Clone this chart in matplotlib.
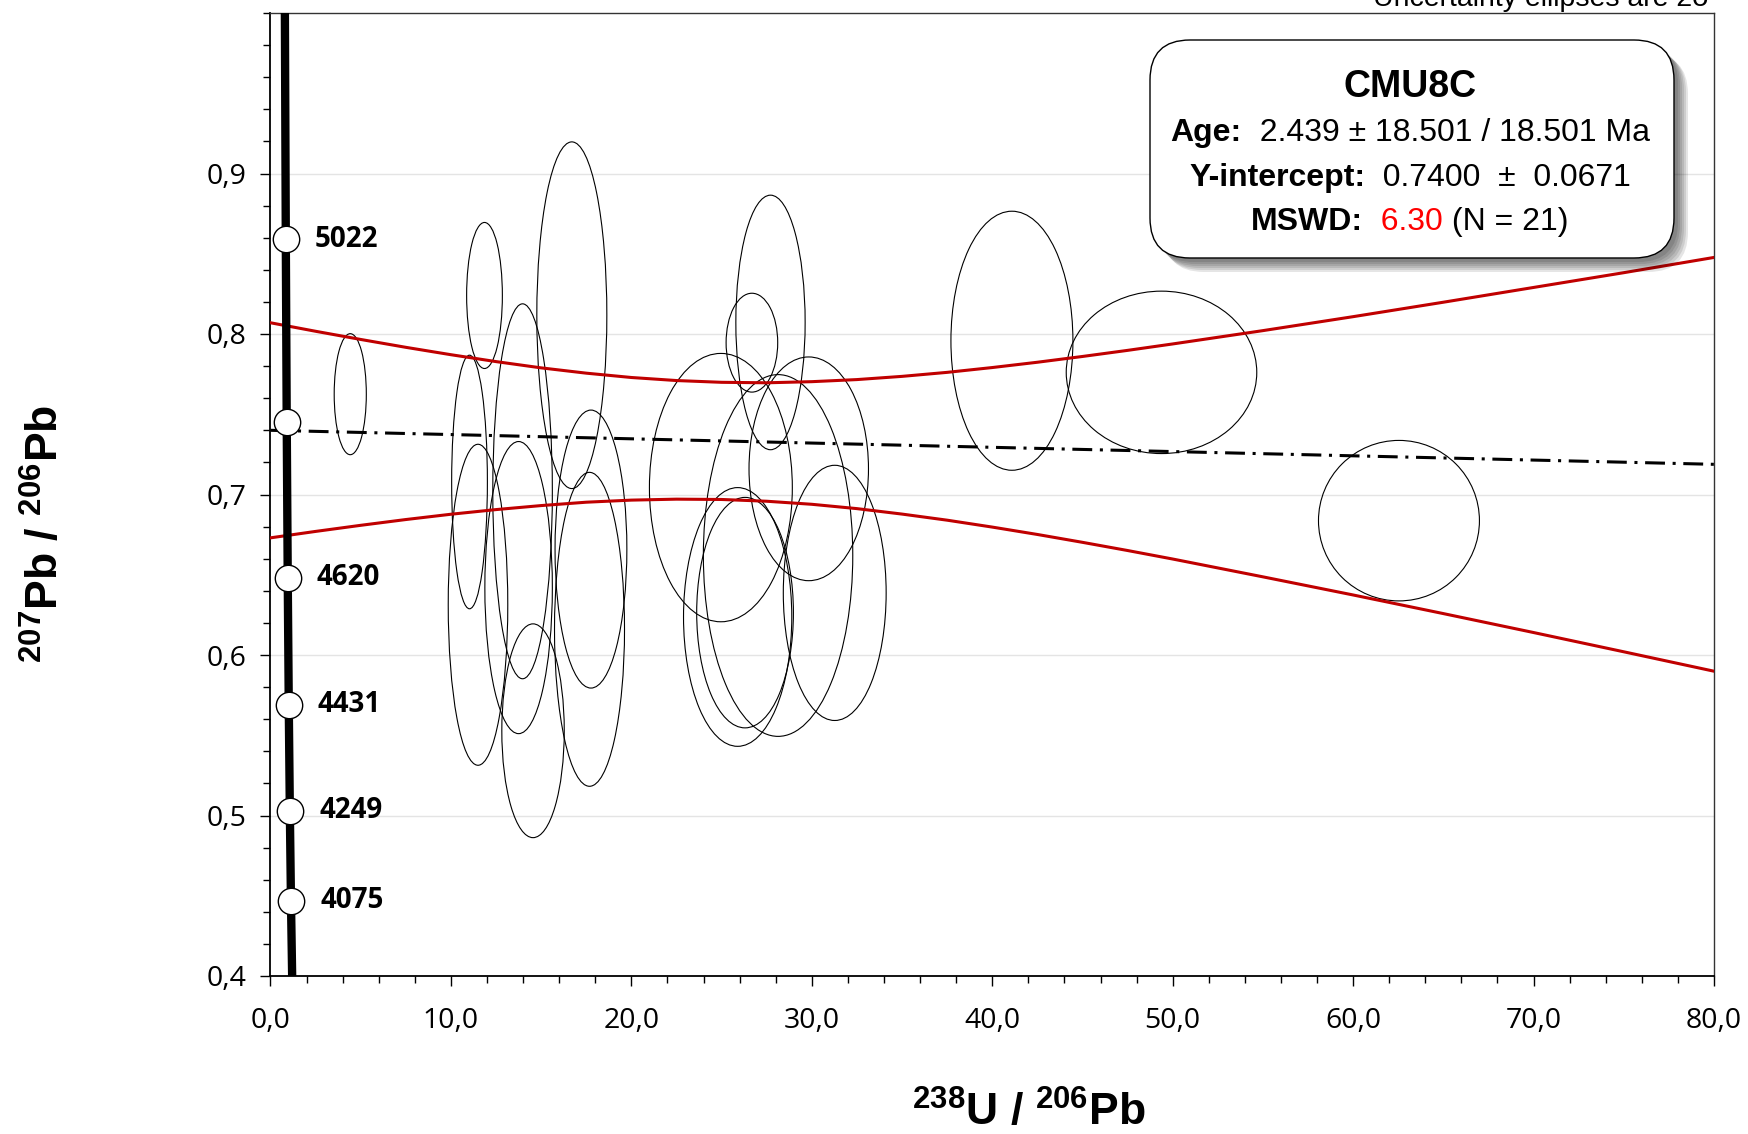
import matplotlib
matplotlib.use("Agg")
import matplotlib.pyplot as plt
from matplotlib.patches import Ellipse, FancyBboxPatch
from matplotlib.ticker import MultipleLocator, FixedLocator, FuncFormatter
from matplotlib.transforms import IdentityTransform

plt.rcParams['mathtext.fontset'] = 'custom'
plt.rcParams['mathtext.rm'] = 'Liberation Sans:bold'
plt.rcParams['mathtext.bf'] = 'Liberation Sans:bold'

# ---------------- data ----------------
# 2 sigma uncertainty ellipses: centre and half-axes
ell_x = [4.42, 11.86, 11.03, 11.50, 13.97, 13.75, 14.55, 16.70, 17.76, 17.68, 24.96,
         26.68, 27.71, 25.89, 26.30, 28.13, 29.83, 31.27, 41.09, 49.38, 62.54]
ell_y = [0.7625, 0.824, 0.7078, 0.6313, 0.702, 0.642, 0.5528, 0.8117, 0.666, 0.616, 0.7043,
         0.7946, 0.8072, 0.6237, 0.6264, 0.662, 0.716, 0.6387, 0.7958, 0.7761, 0.6837]
ell_dx = [0.89, 0.99, 0.99, 1.65, 1.65, 1.87, 1.73, 1.94, 1.99, 1.94, 3.96,
          1.43, 1.92, 3.00, 2.68, 4.14, 3.31, 2.85, 3.38, 5.28, 4.46]
ell_dy = [0.0377, 0.0455, 0.079, 0.100, 0.1168, 0.091, 0.0666, 0.108, 0.0866, 0.0978, 0.0836,
          0.0308, 0.0793, 0.0806, 0.0718, 0.1127, 0.0697, 0.0795, 0.0807, 0.0506, 0.050]

# concordia curve and age markers
conc_x = [0.797, 0.848, 0.899, 0.955, 1.012, 1.072, 1.134, 1.200]
conc_y = [1.000, 0.859, 0.745, 0.648, 0.569, 0.503, 0.447, 0.400]
mark_x = [0.848, 0.899, 0.955, 1.012, 1.072, 1.134]
mark_y = [0.859, 0.745, 0.648, 0.569, 0.503, 0.447]
mark_lab = ["5022", "", "4620", "4431", "4249", "4075"]

# regression line
reg_x = [0.0, 80.0]
reg_y = [0.7400, 0.7188]

# error envelope
env_x = [0, 2.5, 5, 7.5, 10, 12.5, 15, 17.5, 20, 22.5, 25, 27.5, 30, 32.5, 35, 37.5, 40,
         42.5, 45, 47.5, 50, 55, 60, 65, 70, 75, 80]
env_hi = [0.807, 0.8017, 0.7966, 0.7917, 0.7871, 0.7828, 0.7789, 0.7756, 0.7729, 0.7710,
          0.7699, 0.7696, 0.7703, 0.7716, 0.7736, 0.7761, 0.7791, 0.7824, 0.7860, 0.7898,
          0.7938, 0.8021, 0.8108, 0.8198, 0.8290, 0.8382, 0.8477]
env_lo = [0.673, 0.6770, 0.6808, 0.6844, 0.6877, 0.6906, 0.6931, 0.6952, 0.6965, 0.6971,
          0.6969, 0.6958, 0.6939, 0.6912, 0.6878, 0.6840, 0.6797, 0.6751, 0.6702, 0.6651,
          0.6598, 0.6487, 0.6374, 0.6258, 0.6140, 0.6020, 0.5899]

x_ticks = [0, 10, 20, 30, 40, 50, 60, 70, 80]
y_ticks = [0.4, 0.5, 0.6, 0.7, 0.8, 0.9]

# ---------------- figure ----------------
W, H = 1749, 1134
fig = plt.figure(figsize=(W / 100, H / 100), dpi=100)
ax = fig.add_axes([270.5 / W, 1 - 976 / H, (1714 - 270.5) / W, (976 - 13) / H])

ax.set_xlim(0, 80)
ax.set_ylim(0.4, 1.0)

for gy in y_ticks:
    ax.axhline(gy, color="#e4e4e4", lw=1.0, zorder=0)

for x, y, dx, dy in zip(ell_x, ell_y, ell_dx, ell_dy):
    ax.add_patch(Ellipse((x, y), 2 * dx, 2 * dy, fill=False, edgecolor="black", lw=0.8, zorder=2))

ax.plot(env_x, env_hi, color="#c00000", lw=2.2, zorder=3)
ax.plot(env_x, env_lo, color="#c00000", lw=2.2, zorder=3)
ax.plot(reg_x, reg_y, color="black", lw=2.2, linestyle=(0, (6.5, 2.5, 1, 2.5)), zorder=4)

ax.plot(conc_x, conc_y, color="black", lw=6, solid_capstyle="butt", zorder=5)
ax.plot(mark_x, mark_y, "o", ms=19, mfc="white", mec="black", mew=1.0, zorder=6)
for x, y, s in zip(mark_x, mark_y, mark_lab):
    ax.annotate(s, (x, y), xytext=(21, 0), textcoords="offset points", ha="left", va="center",
                fontsize=20, fontweight="bold", family="Open Sans", zorder=7)

# axes styling
comma = FuncFormatter(lambda v, p: f"{v:.1f}".replace(".", ","))
ax.xaxis.set_major_locator(FixedLocator(x_ticks))
ax.xaxis.set_minor_locator(MultipleLocator(2))
ax.yaxis.set_major_locator(FixedLocator(y_ticks))
ax.yaxis.set_minor_locator(MultipleLocator(0.02))
ax.xaxis.set_major_formatter(comma)
ax.yaxis.set_major_formatter(comma)
ax.tick_params(which="major", direction="out", length=7.2, width=1.0, labelsize=20.5, pad=15)
ax.tick_params(which="minor", direction="out", length=5.2, width=1.0)
ax.tick_params(axis="y", which="major", pad=10)
for lab in ax.get_xticklabels() + ax.get_yticklabels():
    lab.set_family("Open Sans")
for side in ["left", "bottom"]:
    ax.spines[side].set_linewidth(1.3)
for side in ["top", "right"]:
    ax.spines[side].set_linewidth(1.0)
    ax.spines[side].set_color("#333333")

# axis titles
fig.text(1029 / W, 8 / H, r"$^{238}$U / $^{206}$Pb", fontsize=32, fontweight="bold",
         family="Liberation Sans", ha="center", va="baseline")
fig.text(46 / W, 1 - 534 / H, r"$^{207}$Pb / $^{206}$Pb", fontsize=32, fontweight="bold",
         family="Liberation Sans", ha="center", va="center", rotation=90)

fig.text(1710 / W, 1 - 6 / H, "Uncertainty ellipses are 2σ", fontsize=20.5,
         family="Liberation Sans", ha="right", va="baseline")

# result box with shadow
bx0, by0, bw, bh = 1150, H - 258, 524, 218
for i in range(6):
    off = 4 + i * 2
    fig.patches.append(FancyBboxPatch((bx0 + off, by0 - off), bw, bh,
                                      boxstyle="round,pad=0,rounding_size=40",
                                      transform=IdentityTransform(), facecolor="black",
                                      edgecolor="none", alpha=0.1, zorder=8))
fig.patches.append(FancyBboxPatch((bx0, by0), bw, bh, boxstyle="round,pad=0,rounding_size=40",
                                  transform=IdentityTransform(), facecolor="white",
                                  edgecolor="black", lw=1.0, zorder=9))

renderer = fig.canvas.get_renderer()


def centred_line(yc, parts, size):
    texts = []
    total = 0
    for s, w, c in parts:
        t = fig.text(0, yc, s, transform=IdentityTransform(), fontsize=size, fontweight=w,
                     color=c, family="Liberation Sans", va="center", ha="left", zorder=10)
        wd = t.get_window_extent(renderer).width
        texts.append((t, wd))
        total += wd
    x = 1410 - total / 2
    for t, wd in texts:
        t.set_x(x)
        x += wd


centred_line(H - 87, [("CMU8C", "bold", "black")], 27)
centred_line(H - 133, [("Age:", "bold", "black"), ("  2.439 ± 18.501 / 18.501 Ma", "normal", "black")], 23)
centred_line(H - 178, [("Y-intercept:", "bold", "black"), ("  0.7400  ±  0.0671", "normal", "black")], 23)
centred_line(H - 222, [("MSWD:", "bold", "black"), ("  6.30", "normal", "#ff0000"),
                       (" (N = 21)", "normal", "black")], 23)

fig.savefig("out.png", dpi=100)
